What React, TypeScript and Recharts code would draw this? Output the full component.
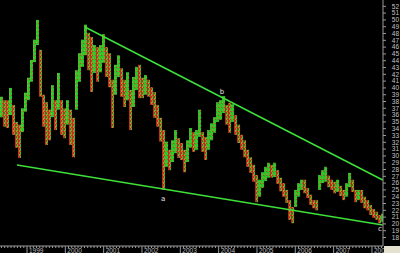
import React from 'react';
import { ComposedChart, Bar, Cell, XAxis, YAxis, ReferenceLine, ReferenceDot } from 'recharts';

// year labels on the time axis
const years = [1999, 2000, 2001, 2002, 2003, 2004, 2005, 2006, 2007, 2008];

// price labels on the right axis
const priceTicks = [
  18, 19, 20, 21, 22, 23, 24, 25, 26, 27, 28, 29, 30, 31, 32, 33, 34, 35,
  36, 37, 38, 39, 40, 41, 42, 43, 44, 45, 46, 47, 48, 49, 50, 51, 52,
];

// 4-weekly high / low
const highs = [
  38.7, 38.2, 38.2, 40.0, 37.5, 35.0, 34.6, 37.0, 39.3, 41.5,
  44.1, 47.1, 50.0, 45.6, 39.0, 37.9, 36.8, 40.4, 38.2, 42.2,
  38.2, 37.0, 38.2, 36.8, 35.6, 42.6, 45.1, 47.1, 49.3, 48.1,
  47.5, 46.3, 46.0, 46.3, 47.9, 46.0, 45.1, 41.2, 43.4, 44.8,
  42.9, 41.2, 42.3, 39.7, 41.6, 43.1, 43.4, 41.5, 41.9, 41.2,
  40.1, 39.4, 37.5, 35.6, 33.8, 32.1, 30.9, 32.3, 33.8, 32.6,
  31.9, 30.9, 32.3, 34.1, 33.5, 33.8, 36.8, 33.5, 32.8, 33.8,
  34.8, 35.7, 37.9, 38.2, 38.8, 37.5, 37.8, 37.6, 36.0, 34.6,
  33.1, 32.3, 30.9, 29.8, 28.7, 27.2, 26.5, 27.6, 28.4, 29.0,
  28.7, 29.0, 27.9, 26.8, 26.0, 25.0, 23.5, 22.5, 25.0, 26.0,
  26.5, 26.5, 25.3, 24.3, 23.5, 23.5, 27.2, 27.9, 28.4, 27.1,
  26.5, 26.2, 26.5, 25.6, 25.0, 26.0, 27.5, 26.5, 25.0, 25.0,
  25.0, 24.0, 23.5, 22.8, 22.2, 21.8, 21.3, 21.5,
];
const lows = [
  35.7, 34.3, 34.1, 36.0, 33.1, 31.2, 29.7, 33.5, 36.5, 38.2,
  40.9, 43.8, 46.3, 38.7, 34.3, 31.6, 32.3, 35.7, 33.8, 36.8,
  33.1, 32.6, 34.6, 31.6, 29.8, 36.8, 40.9, 43.1, 44.8, 42.6,
  39.4, 42.2, 40.9, 42.3, 43.7, 41.6, 40.1, 34.1, 39.0, 41.6,
  38.7, 37.2, 38.2, 33.8, 37.2, 39.7, 38.5, 38.5, 39.0, 38.7,
  37.5, 35.6, 34.3, 32.1, 25.0, 28.4, 27.9, 29.1, 30.4, 29.7,
  29.4, 27.6, 29.1, 31.2, 30.6, 30.9, 32.8, 30.6, 29.4, 30.9,
  32.3, 33.4, 35.0, 35.3, 36.3, 34.6, 33.4, 35.0, 33.1, 31.9,
  30.9, 29.8, 28.4, 27.5, 26.2, 23.2, 24.0, 25.3, 26.3, 26.8,
  26.8, 26.9, 25.9, 24.8, 24.0, 23.1, 20.6, 20.1, 22.5, 24.0,
  25.0, 24.5, 23.8, 22.8, 22.3, 22.0, 25.0, 26.0, 26.2, 25.4,
  25.0, 24.5, 24.7, 24.1, 23.5, 24.0, 25.4, 24.7, 23.2, 23.5,
  23.1, 22.3, 22.0, 21.3, 20.9, 20.6, 20.1, 20.3,
];

const START = 1998.335;
const STEP = 0.0783;

const upperTrend = [{ x: 2000.51, y: 48.96 }, { x: 2008.28, y: 26.46 }];
const lowerTrend = [{ x: 1998.74, y: 28.66 }, { x: 2008.28, y: 19.84 }];

const waveLabels = [
  { t: 2002.55, v: 23.8, text: 'a' },
  { t: 2004.09, v: 39.5, text: 'b' },
  { t: 2008.21, v: 19.3, text: 'c' },
];

const data = highs.map((h, i) => ({
  t: START + i * STEP,
  range: [lows[i], h],
  up: i === 0 || h + lows[i] >= highs[i - 1] + lows[i - 1],
}));

const monthTicks: number[] = [];
for (let y = 1998; y <= 2008; y++) {
  for (let m = 0; m < 12; m++) {
    const v = y + m / 12;
    if (v > 1998.3 && v < 2008.28) monthTicks.push(v);
  }
}

const axisFont = "'Liberation Sans Narrow', 'Liberation Sans', sans-serif";

const XTick = (props: any) => {
  const { x, y, payload } = props;
  const isYear = years.includes(Math.round(payload.value)) && Math.abs(payload.value - Math.round(payload.value)) < 1e-6;
  return (
    <g>
      <line x1={x} x2={x} y1={y} y2={y + (isYear ? 7 : 2)} stroke="#9a9a9a" strokeWidth={1} />
      {isYear && (
        <text x={x + 2} y={y + 6.5} fontSize={6.5} fill="#bdbdbd" fontFamily={axisFont}>
          {Math.round(payload.value)}
        </text>
      )}
    </g>
  );
};

const YTick = (props: any) => {
  const { x, y, payload } = props;
  return (
    <g>
      <line x1={x} x2={x + 3} y1={y} y2={y} stroke="#9a9a9a" strokeWidth={1} />
      <text x={x + 16} y={y + 2.3} textAnchor="end" fontSize={6.5} fill="#c4c4c4" fontFamily={axisFont}>
        {payload.value}
      </text>
    </g>
  );
};

export default function App() {
  return (
    <div style={{ position: 'fixed', left: 0, top: 0, width: 400, height: 253, background: '#000' }}>
      <ComposedChart width={400} height={253} data={data} margin={{ top: 0, right: 0, bottom: 0, left: 0 }}>
        <defs>
          <pattern id="upTex" width="3" height="4" patternUnits="userSpaceOnUse">
            <rect width="3" height="4" fill="#2dc62b" />
            <rect x="0" y="1" width="1" height="2" fill="#8fae2a" />
            <rect x="2" y="3" width="1" height="1" fill="#b8462a" />
          </pattern>
          <pattern id="downTex" width="3" height="4" patternUnits="userSpaceOnUse">
            <rect width="3" height="4" fill="#c9301e" />
            <rect x="2" y="0" width="1" height="3" fill="#3cbf2c" />
            <rect x="1" y="2" width="1" height="2" fill="#a39a2a" />
          </pattern>
        </defs>
        <XAxis
          dataKey="t"
          type="number"
          domain={[1998.296, 2008.288]}
          allowDataOverflow
          ticks={monthTicks}
          interval={0}
          height={7}
          tickSize={0}
          tickMargin={0}
          tickLine={false}
          axisLine={{ stroke: '#9a9a9a' }}
          tick={<XTick />}
        />
        <YAxis
          orientation="right"
          type="number"
          domain={[16.75, 52.93]}
          allowDataOverflow
          ticks={priceTicks}
          interval={0}
          width={17}
          tickSize={0}
          tickMargin={0}
          tickLine={false}
          axisLine={{ stroke: '#9a9a9a' }}
          tick={<YTick />}
        />
        <Bar dataKey="range" barSize={3} isAnimationActive={false}>
          {data.map((d, i) => (
            <Cell key={i} fill={d.up ? 'url(#upTex)' : 'url(#downTex)'} />
          ))}
        </Bar>
        <ReferenceLine segment={upperTrend} stroke="#3ee03a" strokeWidth={1.5} ifOverflow="visible" />
        <ReferenceLine segment={lowerTrend} stroke="#3ee03a" strokeWidth={1.5} ifOverflow="visible" />
        {waveLabels.map((w) => (
          <ReferenceDot
            key={w.text}
            x={w.t}
            y={w.v}
            r={0}
            fill="none"
            stroke="none"
            label={{ value: w.text, position: 'center', fill: '#e8e8e8', fontSize: 7, fontFamily: 'DejaVu Sans' }}
          />
        ))}
      </ComposedChart>
      <div style={{ position: 'absolute', left: 384, top: 246, width: 16, height: 7, background: '#e4e0cf' }} />
    </div>
  );
}
